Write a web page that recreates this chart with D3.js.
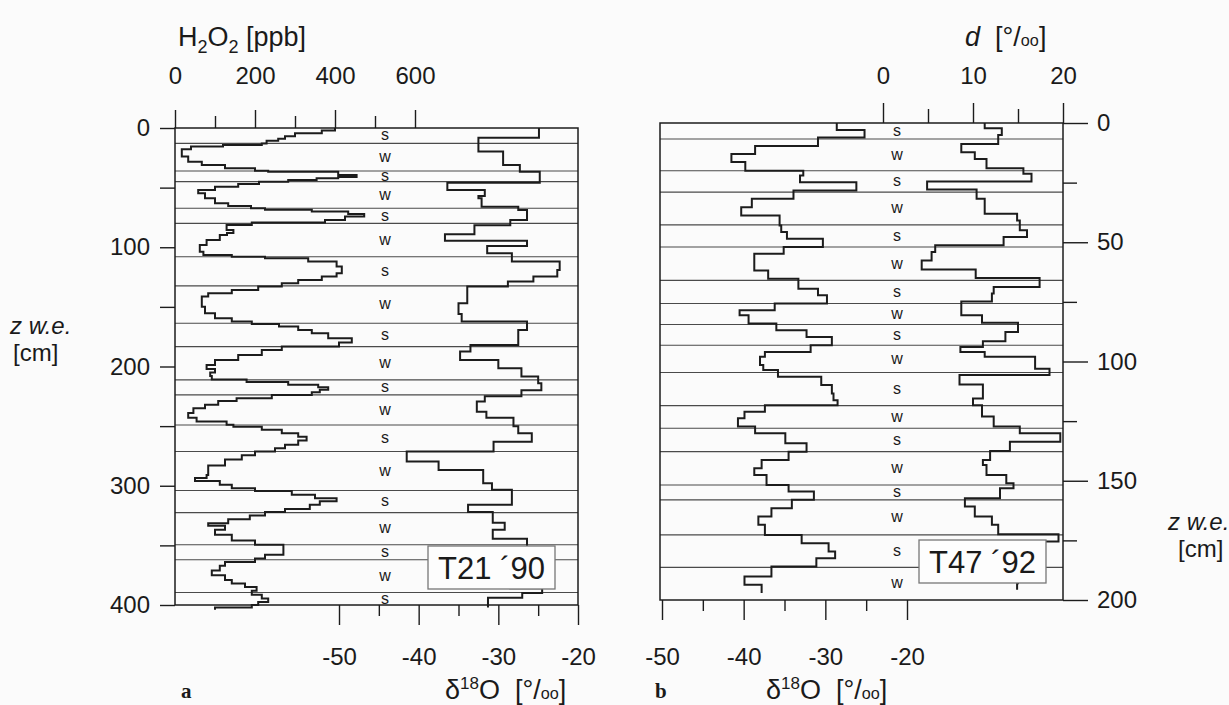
<!DOCTYPE html>
<html>
<head>
<meta charset="utf-8">
<script src="https://cdnjs.cloudflare.com/ajax/libs/d3/7.8.5/d3.min.js"></script>
<style>
body { margin: 0; background: #fbfbfb; }
text { font-family: "Liberation Sans", Arial, sans-serif; fill: #1a1a1a; }
</style>
</head>
<body>
<div id="chart"></div>
<script>
// panel a, core T21 '90 : [depth cm w.e. at top of step, value]
var h2o2A = [[0,400],[2,367],[4.5,300],[7,275],[9,258],[10.6,229],[12.9,217],[14.3,120],[15.5,40],[17.9,17],[24,33],[28.2,67],[31,125],[33.8,200],[35.8,233],[36.6,408],[39.5,454],[41,408],[42.2,354],[43.6,283],[45,210],[46.9,158],[49.2,100],[52,58],[54.8,75],[59,100],[63.1,133],[65.4,190],[67.3,225],[68.5,342],[70.1,433],[72.1,473],[74.3,425],[77.1,375],[79.3,192],[81.3,129],[85.5,146],[88,130],[89.7,112],[93.9,79],[98.1,62],[103.7,71],[106.5,142],[107.9,225],[109.2,333],[112,404],[116.2,417],[121.9,404],[124.6,367],[127.4,308],[130.2,267],[133,208],[135.8,142],[138.6,83],[141.4,67],[149.8,75],[155.3,100],[159.5,142],[162.3,192],[164.3,260],[166.5,308],[169.3,342],[172.1,383],[176.3,442],[179.9,410],[183.3,267],[186.1,217],[190.3,158],[194.5,100],[198.7,79],[202,100],[205,88],[208,92],[211,179],[213,283],[215.4,358],[217.5,383],[219.6,362],[221.5,342],[223.8,242],[226.6,154],[229,108],[232,75],[235,46],[239,33],[243,54],[246.1,129],[248.9,146],[250.5,217],[253.1,267],[256,308],[259,329],[262,308],[265.7,275],[268.5,250],[271.3,200],[274.5,167],[278,125],[283,83],[291,79],[293.6,50],[296,112],[299.2,142],[302,200],[304.5,292],[307.6,350],[310.5,404],[313,362],[316,337],[319.5,275],[322,225],[325,187],[328,133],[331.5,83],[333.5,125],[337,100],[341,142],[346,200],[349.5,271],[355,271],[357.9,225],[361,200],[364,125],[367,112],[371,92],[375,125],[379,142],[382,175],[385,204],[388,192],[391.5,217],[394.5,233],[397.5,208],[400,192],[402,100]];
var h2o2AEnd = 404;

var d18oA = [[0,-24.9],[8.1,-32.5],[19.8,-29.4],[31,-27.3],[36.6,-24.8],[46,-36.4],[52,-31.7],[57,-32.5],[59,-32.1],[66,-27.5],[68.7,-26.4],[77.1,-28.5],[81.5,-33],[89,-36.7],[94.5,-26.4],[99,-31.4],[105,-28.3],[112,-22.3],[119,-22.6],[124.6,-25.6],[128.8,-28.8],[133,-33.9],[147,-35],[156,-34.6],[162.3,-26.4],[169.3,-27.5],[181.9,-33.5],[187.5,-34.8],[194.5,-30],[201.5,-27.1],[208.4,-25],[214,-24.6],[220,-27.1],[225,-31.7],[229.4,-32.7],[238,-31.5],[243,-28.1],[250,-27.5],[256,-25.8],[263,-30.6],[271.3,-41.5],[279.7,-37.5],[286.7,-31.9],[298,-30.8],[303.4,-28.3],[316,-33.8],[322,-30.7],[331,-29.2],[337,-30.7],[344.5,-26.4],[366,-28.5],[386,-24.5],[390,-27],[394,-31.3]];
var d18oAEnd = 402;

var seasonLinesA = [12.9,36,45,67.3,80,108,132.4,163.7,183.3,211.2,223.8,249,271.3,304,322.5,349.5,362,389.5];
var seasonsA = ["s","w","s","w","s","w","s","w","s","w","s","w","s","w","s","w","s","w","s"];

// panel b, core T47 '92
var d18oB = [[0,-28.6],[2.9,-25.2],[6.1,-30.9],[9.6,-38.6],[13,-41.5],[16.3,-39.8],[20,-32.7],[22,-33.1],[24.8,-26.2],[28.3,-33.9],[31.8,-39],[35.3,-40.3],[38.8,-35.6],[43,-35.4],[45.7,-34.7],[48.5,-30.3],[52,-35.1],[54.8,-38.7],[61.8,-37],[65.3,-33.3],[69.5,-30.9],[72.2,-29.8],[75.7,-36.2],[78.5,-40.5],[80.6,-39.4],[84.1,-36],[86.9,-32.3],[89.7,-29.2],[93.2,-31.8],[96,-37.4],[98,-38],[101.5,-37.6],[103.6,-35.8],[106.4,-30.5],[109.9,-29.2],[113.4,-29],[116.2,-28.5],[118.3,-37.4],[121.1,-39.9],[123.8,-40.7],[127.3,-38.6],[130.1,-34.9],[134.3,-32.3],[137.8,-34.5],[141.3,-37.8],[144.8,-38.7],[147.6,-37.2],[151.8,-34.5],[154.5,-31.4],[158,-34.1],[161.5,-36.6],[165,-38.2],[168.5,-37.4],[172.7,-32.9],[176.2,-29.6],[179.7,-28.8],[182.5,-31.1],[186,-36.6],[190.1,-39.9],[193.6,-37.8]];
var d18oBEnd = 197.1;

var dexB = [[0,11.3],[2.2,13.2],[5,12.8],[8.8,8.7],[12.3,10.2],[15.1,11.5],[19,15.6],[21.3,16.5],[24.5,4.9],[27.9,10.4],[31.8,11.3],[38.1,14.9],[40.9,15.2],[45,16],[47.8,13.4],[51.3,5.8],[54.1,5.4],[57.6,4.3],[61.4,10.3],[65,17.4],[68.8,12.3],[71.5,12.1],[74.8,8.7],[80.6,11],[83.7,15],[87.6,13.6],[91.5,11.1],[93.9,8.6],[96,11.3],[98,16.9],[103,18.5],[105.7,8.5],[109.6,11.1],[115.5,10],[118.3,11],[123.1,12.3],[127.3,15.2],[130.1,19.7],[133.6,14.1],[137.5,11.9],[141.3,11.1],[143.4,11.5],[147.6,13.7],[151.1,14.5],[153.1,13],[157.3,9.1],[160.8,10.2],[165,12.1],[168.5,12.8],[172.4,19.5],[175.5,17],[184,15],[193,14.9]];
var dexBEnd = 195.7;

var seasonLinesB = [6.7,20,29,42.7,52,66,75.7,84.5,93.2,104.6,118.5,128,137.8,151.8,158,172.7,186.3];
var seasonsB = ["s","w","s","w","s","w","s","w","s","w","s","w","s","w","s","w","s","w"];

// ticks
var h2o2Major = [0,200,400,600], h2o2Minor = [100,300,500];
var d18oMajor = [-50,-40,-30,-20], d18oMinor = [-45,-35,-25];
var dexMajor = [0,10,20], dexMinor = [5,15];
var zTicksA = [0,50,100,150,200,250,300,350,400], zLabelsA = [0,100,200,300,400];
var zMajorB = [0,50,100,150,200], zMinorB = [25,75,125,175];

var W = 1229, H = 705;
var svg = d3.select("#chart").append("svg").attr("width", W).attr("height", H);
svg.append("rect").attr("width", W).attr("height", H).attr("fill", "#fbfbfb");

var zA = d3.scaleLinear().domain([0,400]).range([128,605]);
var xH2 = d3.scaleLinear().domain([0,600]).range([175,415]);
var xOA = d3.scaleLinear().domain([-50,-20]).range([339,578]);
var zB = d3.scaleLinear().domain([0,200]).range([123,600]);
var xOB = d3.scaleLinear().domain([-50,-20]).range([662,907]);
var xD = d3.scaleLinear().domain([0,20]).range([883,1063]);

var ink = "#1c1c1c";
var fmt = d => String(d); // plain hyphen as in the scan

function stepPath(data, end, x, z) {
  var pts = data.concat([[end, data[data.length-1][1]]]);
  return d3.line()
    .x(d => x(d[1]))
    .y(d => z(d[0]))
    .curve(d3.curveStepBefore)(pts);
}

function axisStyle(g, size) {
  g.select(".domain").remove();
  g.selectAll("line").attr("stroke", ink).attr("stroke-width", 1.4);
  g.selectAll("text").style("font-size", size + "px").attr("fill", ink);
}

function panel(left, right, z, lines, seasons, labelX) {
  var g = svg.append("g");
  // season boundaries
  g.selectAll("line.season").data(lines).enter().append("line")
    .attr("class", "season")
    .attr("x1", left).attr("x2", right)
    .attr("y1", d => z(d)).attr("y2", d => z(d))
    .attr("stroke", "#4a4a4a").attr("stroke-width", 1.1);
  var bounds = [z.domain()[0]].concat(lines).concat([z.domain()[1]]);
  g.selectAll("text.season").data(seasons).enter().append("text")
    .attr("class", "season")
    .attr("x", labelX)
    .attr("y", (d, i) => z((bounds[i] + bounds[i+1]) / 2))
    .attr("dy", "0.3em")
    .attr("text-anchor", "middle")
    .style("font-size", "16px")
    .text(d => d);
  // frame
  g.append("rect")
    .attr("x", left).attr("y", z.range()[0])
    .attr("width", right - left).attr("height", z.range()[1] - z.range()[0])
    .attr("fill", "none").attr("stroke", ink).attr("stroke-width", 1.5);
  return g;
}

// ---- panel a
panel(175, 578, zA, seasonLinesA, seasonsA, 385);

svg.append("path").attr("d", stepPath(h2o2A, h2o2AEnd, xH2, zA))
  .attr("fill", "none").attr("stroke", ink).attr("stroke-width", 2);
svg.append("path").attr("d", stepPath(d18oA, d18oAEnd, xOA, zA))
  .attr("fill", "none").attr("stroke", ink).attr("stroke-width", 2);

svg.append("g").attr("transform", "translate(175,0)")
  .call(d3.axisLeft(zA).tickValues(zTicksA).tickSize(15).tickPadding(10)
    .tickFormat(d => zLabelsA.indexOf(d) >= 0 ? fmt(d) : ""))
  .call(g => axisStyle(g, 24));

svg.append("g").attr("transform", "translate(0,128)")
  .call(d3.axisTop(xH2).tickValues(h2o2Major).tickSize(18).tickPadding(26).tickFormat(fmt))
  .call(g => axisStyle(g, 24));
svg.append("g").attr("transform", "translate(0,128)")
  .call(d3.axisTop(xH2).tickValues(h2o2Minor).tickSize(12).tickFormat(""))
  .call(g => axisStyle(g, 24));

svg.append("g").attr("transform", "translate(0,605)")
  .call(d3.axisBottom(xOA).tickValues(d18oMajor).tickSize(20).tickPadding(23).tickFormat(fmt))
  .call(g => axisStyle(g, 24));
svg.append("g").attr("transform", "translate(0,605)")
  .call(d3.axisBottom(xOA).tickValues(d18oMinor).tickSize(11).tickFormat(""))
  .call(g => axisStyle(g, 24));

// ---- panel b
panel(660, 1063, zB, seasonLinesB, seasonsB, 897);

svg.append("path").attr("d", stepPath(d18oB, d18oBEnd, xOB, zB))
  .attr("fill", "none").attr("stroke", ink).attr("stroke-width", 2);
svg.append("path").attr("d", stepPath(dexB, dexBEnd, xD, zB))
  .attr("fill", "none").attr("stroke", ink).attr("stroke-width", 2);

svg.append("g").attr("transform", "translate(1063,0)")
  .call(d3.axisRight(zB).tickValues(zMajorB).tickSize(25).tickPadding(9).tickFormat(fmt))
  .call(g => axisStyle(g, 24));
svg.append("g").attr("transform", "translate(1063,0)")
  .call(d3.axisRight(zB).tickValues(zMinorB).tickSize(14).tickFormat(""))
  .call(g => axisStyle(g, 24));

svg.append("g").attr("transform", "translate(0,123)")
  .call(d3.axisTop(xD).tickValues(dexMajor).tickSize(20).tickPadding(19).tickFormat(fmt))
  .call(g => axisStyle(g, 24));
svg.append("g").attr("transform", "translate(0,123)")
  .call(d3.axisTop(xD).tickValues(dexMinor).tickSize(14).tickFormat(""))
  .call(g => axisStyle(g, 24));

svg.append("g").attr("transform", "translate(0,600)")
  .call(d3.axisBottom(xOB).tickValues(d18oMajor).tickSize(20).tickPadding(28).tickFormat(fmt))
  .call(g => axisStyle(g, 24));
svg.append("g").attr("transform", "translate(0,600)")
  .call(d3.axisBottom(xOB).tickValues(d18oMinor).tickSize(11).tickFormat(""))
  .call(g => axisStyle(g, 24));

// core name boxes
function coreBox(x, y, name) {
  svg.append("rect").attr("x", x).attr("y", y).attr("width", 127).attr("height", 43)
    .attr("fill", "#fdfdfd").attr("stroke", "#777").attr("stroke-width", 1.3);
  svg.append("text").attr("x", x + 63.5).attr("y", y + 33)
    .attr("text-anchor", "middle").style("font-size", "31px").text(name);
}
coreBox(428, 546, "T21 \u00b490");
coreBox(919, 540, "T47 \u00b492");

// axis titles
var t = svg.append("text").attr("x", 178).attr("y", 46).style("font-size", "27px");
t.append("tspan").text("H");
t.append("tspan").attr("dy", 7).style("font-size", "18px").text("2");
t.append("tspan").attr("dy", -7).text("O");
t.append("tspan").attr("dy", 7).style("font-size", "18px").text("2");
t.append("tspan").attr("dy", -7).text(" [ppb]");

function permil(sel) {
  sel.append("tspan").text("[°/");
  sel.append("tspan").style("font-size", "0.6em").text("oo");
  sel.append("tspan").text("]");
}

var td = svg.append("text").attr("x", 965).attr("y", 46).style("font-size", "27px");
td.append("tspan").style("font-style", "italic").text("d");
td.append("tspan").text("\u00a0 ");
permil(td);

function deltaLabel(x) {
  var s = svg.append("text").attr("x", x).attr("y", 699).style("font-size", "27px");
  s.append("tspan").text("δ");
  s.append("tspan").attr("dy", -10).style("font-size", "17px").text("18");
  s.append("tspan").attr("dy", 10).text("O\u00a0 ");
  permil(s);
}
deltaLabel(445);
deltaLabel(766);

[[10, 334, "z w.e.", true], [13, 361, "[cm]", false], [1168, 530, "z w.e.", true], [1178, 557, "[cm]", false]]
  .forEach(function(d) {
    svg.append("text").attr("x", d[0]).attr("y", d[1]).style("font-size", "24px")
      .style("font-style", d[3] ? "italic" : "normal").text(d[2]);
  });

svg.append("text").attr("x", 181).attr("y", 698).style("font-size", "21px")
  .style("font-family", "'Liberation Serif', serif").style("font-weight", "bold").text("a");
svg.append("text").attr("x", 655).attr("y", 698).style("font-size", "21px")
  .style("font-family", "'Liberation Serif', serif").style("font-weight", "bold").text("b");
</script>
</body>
</html>
